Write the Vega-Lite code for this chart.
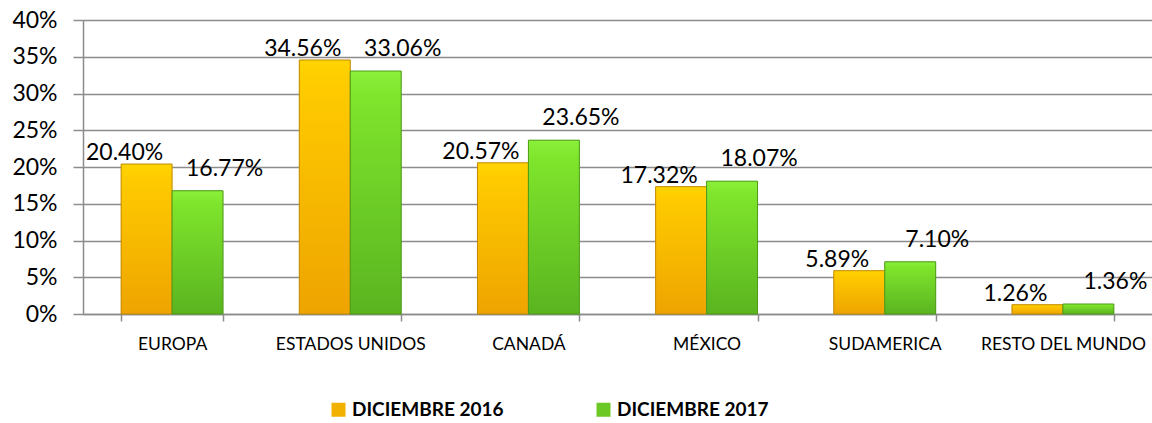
{
  "$schema": "https://vega.github.io/schema/vega-lite/v6.json",
  "width": 1069,
  "height": 294,
  "autosize": {"type": "none"},
  "padding": {"left": 83, "top": 20, "right": 0, "bottom": 109},
  "background": "white",
  "config": {
    "view": {"stroke": null},
    "font": "Lato"
  },
  "data": {
    "values": [
      {"region": "EUROPA", "serie": "DICIEMBRE 2016", "valor": 0.2040},
      {"region": "EUROPA", "serie": "DICIEMBRE 2017", "valor": 0.1677},
      {"region": "ESTADOS UNIDOS", "serie": "DICIEMBRE 2016", "valor": 0.3456},
      {"region": "ESTADOS UNIDOS", "serie": "DICIEMBRE 2017", "valor": 0.3306},
      {"region": "CANADÁ", "serie": "DICIEMBRE 2016", "valor": 0.2057},
      {"region": "CANADÁ", "serie": "DICIEMBRE 2017", "valor": 0.2365},
      {"region": "MÉXICO", "serie": "DICIEMBRE 2016", "valor": 0.1732},
      {"region": "MÉXICO", "serie": "DICIEMBRE 2017", "valor": 0.1807},
      {"region": "SUDAMERICA", "serie": "DICIEMBRE 2016", "valor": 0.0589},
      {"region": "SUDAMERICA", "serie": "DICIEMBRE 2017", "valor": 0.0710},
      {"region": "RESTO DEL MUNDO", "serie": "DICIEMBRE 2016", "valor": 0.0126},
      {"region": "RESTO DEL MUNDO", "serie": "DICIEMBRE 2017", "valor": 0.0136}
    ]
  },
  "encoding": {
    "x": {
      "field": "region", "type": "nominal", "sort": null, "title": null,
      "scale": {"paddingInner": 0.428, "paddingOuter": 0.214},
      "axis": {
        "labelAngle": 0, "labelFont": "Lato", "labelFontSize": 17.5, "labelColor": "#000000",
        "labelPadding": 14, "tickBand": "extent", "tickSize": 7, "tickColor": "#8C8C8C", "tickWidth": 1.5,
        "domainColor": "#8C8C8C", "domainWidth": 1.5, "grid": false
      }
    },
    "xOffset": {"field": "serie", "type": "nominal", "scale": {"paddingInner": 0, "paddingOuter": 0}},
    "y": {
      "field": "valor", "type": "quantitative", "title": null,
      "scale": {"domain": [0, 0.4], "nice": false},
      "axis": {
        "values": [0, 0.05, 0.1, 0.15, 0.2, 0.25, 0.3, 0.35, 0.4],
        "format": ".0%", "labelFont": "Lato", "labelFontSize": 23, "labelColor": "#000000",
        "labelPadding": 16, "tickSize": 10, "tickColor": "#8C8C8C", "tickWidth": 1.5,
        "domainColor": "#8C8C8C", "domainWidth": 1.5,
        "grid": true, "gridColor": "#8C8C8C", "gridWidth": 1.5
      }
    }
  },
  "layer": [
    {
      "mark": {"type": "bar"},
      "encoding": {
        "color": {
          "field": "serie", "type": "nominal",
          "scale": {"domain": ["DICIEMBRE 2016", "DICIEMBRE 2017"], "range": ["#F2B000", "#6CC824"]},
          "legend": {
            "orient": "none", "legendX": 246, "legendY": 380, "direction": "horizontal",
            "title": null, "symbolType": "square", "symbolSize": 196, "symbolStrokeWidth": 0,
            "labelFont": "Lato", "labelFontSize": 19, "labelFontWeight": "bold", "labelColor": "#000000",
            "labelOffset": 4, "columnPadding": 90, "labelLimit": 300
          }
        }
      }
    },
    {
      "mark": {"type": "bar", "strokeWidth": 1},
      "encoding": {
        "color": {
          "condition": {
            "test": "datum.serie === 'DICIEMBRE 2016'",
            "value": {"gradient": "linear", "x1": 0, "y1": 0, "x2": 0, "y2": 1, "stops": [{"offset": 0, "color": "#FFD400"}, {"offset": 0.1, "color": "#FFCB00"}, {"offset": 1, "color": "#EEA400"}]}
          },
          "value": {"gradient": "linear", "x1": 0, "y1": 0, "x2": 0, "y2": 1, "stops": [{"offset": 0, "color": "#8AF03A"}, {"offset": 0.1, "color": "#7FE52C"}, {"offset": 1, "color": "#5AB420"}]}
        },
        "stroke": {
          "condition": {"test": "datum.serie === 'DICIEMBRE 2016'", "value": "#C08A00"},
          "value": "#4E9A1A"
        }
      }
    },
    {
      "transform": [{"filter": "datum.serie === 'DICIEMBRE 2016'"}],
      "mark": {"type": "text", "font": "Lato", "fontSize": 23, "color": "#000000", "baseline": "middle", "dx": -22, "dy": -11},
      "encoding": {"text": {"field": "valor", "type": "quantitative", "format": ".2%"}}
    },
    {
      "transform": [{"filter": "datum.serie === 'DICIEMBRE 2017'"}],
      "mark": {"type": "text", "font": "Lato", "fontSize": 23, "color": "#000000", "baseline": "middle", "dx": 27, "dy": -22},
      "encoding": {"text": {"field": "valor", "type": "quantitative", "format": ".2%"}}
    }
  ]
}
